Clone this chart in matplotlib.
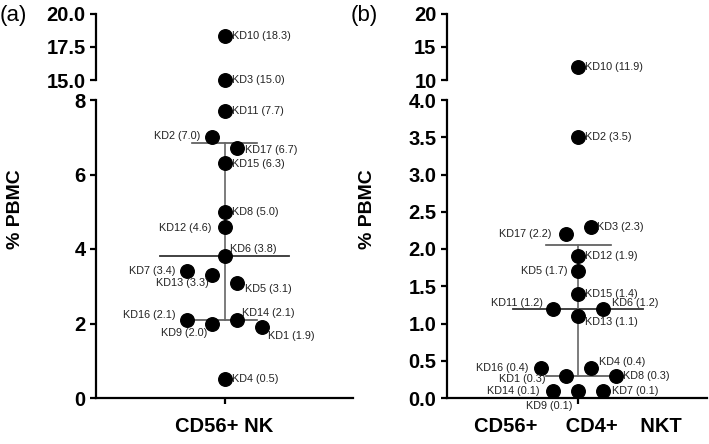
import matplotlib.pyplot as plt
import numpy as np

plt.rcParams['font.family'] = 'Liberation Sans'

# (a) CD56+ NK
nk_ids = ['KD10', 'KD3', 'KD11', 'KD2', 'KD17', 'KD15', 'KD8', 'KD12', 'KD6',
          'KD7', 'KD13', 'KD5', 'KD16', 'KD9', 'KD14', 'KD1', 'KD4']
nk_vals = [18.3, 15.0, 7.7, 7.0, 6.7, 6.3, 5.0, 4.6, 3.8,
           3.4, 3.3, 3.1, 2.1, 2.0, 2.1, 1.9, 0.5]

# (b) CD56+ CD4+ NKT
nkt_ids = ['KD10', 'KD2', 'KD17', 'KD3', 'KD12', 'KD5', 'KD15', 'KD11', 'KD6',
           'KD13', 'KD16', 'KD1', 'KD4', 'KD8', 'KD14', 'KD9', 'KD7']
nkt_vals = [11.9, 3.5, 2.2, 2.3, 1.9, 1.7, 1.4, 1.2, 1.2,
            1.1, 0.4, 0.3, 0.4, 0.3, 0.1, 0.1, 0.1]

# posicoes horizontais dos pontos (espalhamento) e dos rotulos, em pixels
nk_xoff = [0, 0, 0, -1, 1, 0, 0, 0, 0, -3, -1, 1, -3, -1, 1, 3, 0]
nk_lab = [(8, 0, 'left'), (8, 0, 'left'), (8, 0, 'left'), (-12, 1, 'right'),
          (8, -2, 'left'), (8, -1, 'left'), (8, 0, 'left'), (-13, -1, 'right'),
          (6, 7, 'left'), (-12, 0, 'right'), (-3, -8, 'right'), (8, -6, 'left'),
          (-12, 5, 'right'), (-5, -9, 'right'), (5, 7, 'left'), (6, -9, 'left'),
          (8, 0, 'left')]

nkt_xoff = [0, 0, -1, 1, 0, 0, 0, -2, 2, 0, -3, -1, 1, 3, -2, 0, 2]
nkt_lab = [(7, 0, 'left'), (7, 0, 'left'), (-14, 0, 'right'), (6, 0, 'left'),
           (7, 0, 'left'), (-11, 0, 'right'), (7, 0, 'left'), (-10, 6, 'right'),
           (9, 6, 'left'), (7, -6, 'left'), (-12, 0, 'right'), (-20, -3, 'right'),
           (8, 6, 'left'), (7, 0, 'left'), (-14, 0, 'right'), (-29, -15, 'center'),
           (9, 0, 'left')]

W, H = 709, 444
fig = plt.figure(figsize=(W / 100, H / 100), dpi=100)


def estilo(ax, bottom):
    for s in ['top', 'right']:
        ax.spines[s].set_visible(False)
    ax.spines['left'].set_linewidth(1.6)
    ax.spines['bottom'].set_linewidth(1.6)
    if not bottom:
        ax.spines['bottom'].set_visible(False)
        ax.set_xticks([])
    ax.tick_params(axis='both', width=1.6, length=4.5, pad=3,
                   labelsize=14.5, direction='out')
    for t in ax.get_yticklabels():
        t.set_fontweight('bold')


def painel(x0, x1, ids, vals, xoff, lab, xlim, low, low_ticks, low_fmt,
           up, up_ticks, up_fmt, categoria, tag):
    left = x0 / W
    width = (x1 - x0) / W
    ax_low = fig.add_axes([left, 1 - 398 / H, width, 298 / H])
    ax_up = fig.add_axes([left, 1 - 80 / H, width, 66 / H])

    vals = np.array(vals)
    med = np.median(vals)
    q1, q3 = np.percentile(vals, [25, 75], method='weibull')
    ax_low.plot([-5.2, 5.2], [med, med], color='#333333', lw=1.3, zorder=1)
    ax_low.plot([-2.6, 2.6], [q1, q1], color='#555555', lw=1.2, zorder=1)
    ax_low.plot([-2.6, 2.6], [q3, q3], color='#555555', lw=1.2, zorder=1)
    ax_low.plot([0, 0], [q1, q3], color='#666666', lw=1.2, zorder=1)

    for nome, v, dx, (lx, ly, ha) in zip(ids, vals, xoff, lab):
        ax = ax_up if v > low[1] else ax_low
        ax.scatter([dx], [v], s=95, color='black', zorder=3, clip_on=False)
        ax.annotate(f'{nome} ({v:.1f})', (dx, v), xytext=(lx, ly),
                    textcoords='offset pixels', ha=ha, va='center',
                    fontsize=7.8, color='#222222')

    ax_low.set_xlim(*xlim)
    ax_up.set_xlim(*xlim)
    ax_low.set_ylim(*low)
    ax_up.set_ylim(*up)
    ax_low.set_yticks(low_ticks)
    ax_low.set_yticklabels([low_fmt.format(t) for t in low_ticks])
    ax_up.set_yticks(up_ticks)
    ax_up.set_yticklabels([up_fmt.format(t) for t in up_ticks])
    ax_low.set_xticks([0])
    ax_low.set_xticklabels([categoria], fontsize=15, fontweight='bold')
    estilo(ax_low, True)
    estilo(ax_up, False)
    ax_low.tick_params(axis='x', pad=9)

    fig.text((x0 - 80) / W, 1 - 209 / H, '% PBMC', rotation=90,
             ha='center', va='center', fontsize=14, fontweight='bold')
    fig.text((x0 - 96) / W, 1 - 16 / H, tag, ha='left', va='center',
             fontsize=16)


painel(96, 353, nk_ids, nk_vals, nk_xoff, nk_lab, (-10.3, 10.3),
       (0, 8), [0, 2, 4, 6, 8], '{:.0f}',
       (15, 20), [15, 17.5, 20], '{:.1f}', 'CD56+ NK', '(a)')
painel(447, 707, nkt_ids, nkt_vals, nkt_xoff, nkt_lab, (-10.5, 10.3),
       (0, 4), [0, 0.5, 1, 1.5, 2, 2.5, 3, 3.5, 4], '{:.1f}',
       (10, 20), [10, 15, 20], '{:.0f}', 'CD56+     CD4+    NKT', '(b)')

fig.savefig('out.png', dpi=100)
